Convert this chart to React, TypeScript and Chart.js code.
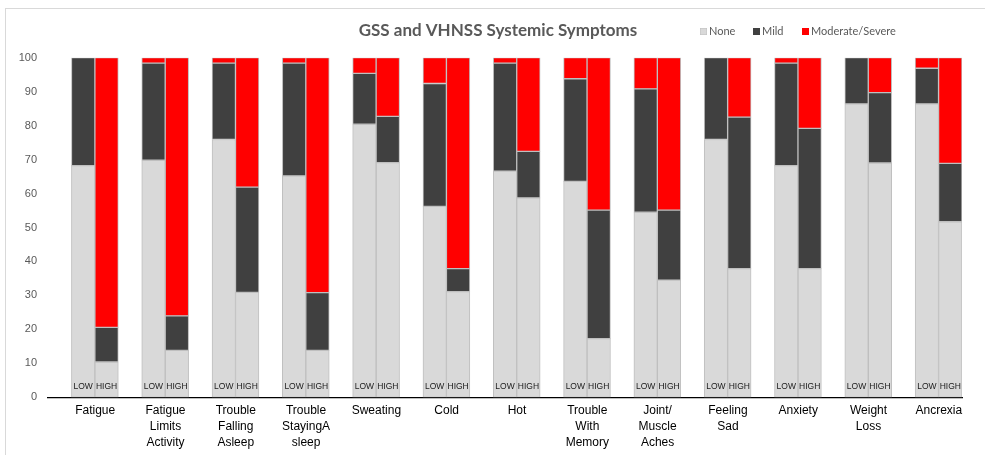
import { useEffect, useRef } from 'react';
import { Chart, registerables } from 'chart.js';

Chart.register(...registerables);

const categories: string[][] = [
  ['Fatigue'],
  ['Fatigue', 'Limits', 'Activity'],
  ['Trouble', 'Falling', 'Asleep'],
  ['Trouble', 'StayingA', 'sleep'],
  ['Sweating'],
  ['Cold'],
  ['Hot'],
  ['Trouble', 'With', 'Memory'],
  ['Joint/', 'Muscle', 'Aches'],
  ['Feeling', 'Sad'],
  ['Anxiety'],
  ['Weight', 'Loss'],
  ['Ancrexia'],
];

const yTicks = [0, 10, 20, 30, 40, 50, 60, 70, 80, 90, 100];

const lowNone = [68.2, 69.8, 75.9, 65.2, 80.4, 56.2, 66.6, 63.6, 54.5, 75.9, 68.2, 86.4, 86.4];
const lowMild = [31.8, 28.6, 22.5, 33.2, 15.0, 36.2, 31.8, 30.2, 36.3, 24.1, 30.2, 13.6, 10.5];
const lowSevere = [0, 1.6, 1.6, 1.6, 4.6, 7.6, 1.6, 6.2, 9.2, 0, 1.6, 0, 3.1];

const highNone = [10.4, 13.8, 30.9, 13.8, 69.1, 31.1, 58.7, 17.3, 34.5, 37.9, 37.9, 69.0, 51.7];
const highMild = [10.2, 10.2, 31.0, 17.0, 13.6, 6.8, 13.7, 37.8, 20.6, 44.6, 41.3, 20.7, 17.2];
const highSevere = [79.4, 76.0, 38.1, 69.2, 17.3, 62.1, 27.6, 44.9, 44.9, 17.5, 20.8, 10.3, 31.1];

const groupLabels = ['LOW', 'HIGH'];
const seriesNames = ['None', 'Mild', 'Moderate/Severe'];
const titleText = 'GSS and VHNSS Systemic Symptoms';

const COLORS = ['#d9d9d9', '#404040', '#ff0000'];
const BORDER = '#bfbfbf';
const LEGEND_X = [694, 747, 796];

export default function App() {
  const ref = useRef<HTMLCanvasElement | null>(null);

  useEffect(() => {
    if (!ref.current) return;

    const overlay = {
      id: 'overlay',
      afterDraw(chart: any) {
        const ctx = chart.ctx;
        ctx.save();
        // title
        ctx.fillStyle = '#595959';
        ctx.font = 'bold 17px Lato, "Open Sans", sans-serif';
        ctx.textAlign = 'center';
        ctx.textBaseline = 'middle';
        ctx.fillText(titleText, 492, 22);
        // legend
        ctx.font = '11px Lato, "Open Sans", sans-serif';
        ctx.textAlign = 'left';
        seriesNames.forEach((name, i) => {
          const x = LEGEND_X[i];
          ctx.fillStyle = COLORS[i];
          ctx.fillRect(x, 19, 7, 7);
          ctx.strokeStyle = i === 0 ? '#bfbfbf' : COLORS[i];
          ctx.lineWidth = 0.5;
          ctx.strokeRect(x + 0.25, 19.25, 6.5, 6.5);
          ctx.fillStyle = '#595959';
          ctx.fillText(name, x + 9, 22.5);
        });
        // LOW / HIGH labels
        ctx.font = '8.5px "Liberation Sans", Arial, sans-serif';
        ctx.fillStyle = '#1a1a1a';
        ctx.textAlign = 'center';
        const yPos = chart.chartArea.bottom - 11;
        [1, 4].forEach((dsIndex, g) => {
          const meta = chart.getDatasetMeta(dsIndex);
          meta.data.forEach((bar: any) => {
            ctx.fillText(groupLabels[g], bar.x, yPos);
          });
        });
        ctx.restore();
      },
    };

    const ds = (label: string, data: number[], stack: string, color: string, hidden = false) => ({
      label,
      data,
      stack,
      backgroundColor: color,
      borderColor: hidden ? 'rgba(0,0,0,0)' : BORDER,
      borderWidth: hidden ? 0 : 1,
      borderSkipped: false as const,
      categoryPercentage: 1,
      barPercentage: 1,
    });

    const zeros = categories.map(() => 0);

    const chart = new Chart(ref.current, {
      type: 'bar',
      data: {
        labels: categories,
        datasets: [
          ds('gap', zeros, 'gap', 'rgba(0,0,0,0)', true),
          ds(seriesNames[0], lowNone, 'low', COLORS[0]),
          ds(seriesNames[1], lowMild, 'low', COLORS[1]),
          ds(seriesNames[2], lowSevere, 'low', COLORS[2]),
          ds(seriesNames[0], highNone, 'high', COLORS[0]),
          ds(seriesNames[1], highMild, 'high', COLORS[1]),
          ds(seriesNames[2], highSevere, 'high', COLORS[2]),
        ],
      },
      options: {
        animation: false,
        responsive: true,
        maintainAspectRatio: false,
        layout: { padding: { top: 48.7, right: 23, left: 0, bottom: 0 } },
        plugins: {
          legend: { display: false },
          title: { display: false },
          tooltip: { enabled: false },
        },
        scales: {
          x: {
            stacked: true,
            grid: { display: false, drawTicks: false },
            border: { display: true, color: '#000000', width: 1.3 },
            ticks: {
              color: '#000000',
              padding: 5,
              labelOffset: 12,
              maxRotation: 0,
              autoSkip: false,
              font: { family: '"Liberation Sans", Arial, sans-serif', size: 12, lineHeight: 1.33 },
            },
            afterFit: (s: any) => { s.height = 57.7; },
          },
          y: {
            stacked: true,
            min: 0,
            max: 100,
            afterBuildTicks: (s: any) => { s.ticks = yTicks.map((v) => ({ value: v })); },
            grid: { display: false, drawTicks: false },
            border: { display: false },
            ticks: {
              color: '#595959',
              padding: 11,
              font: { family: '"Liberation Sans", Arial, sans-serif', size: 11 },
            },
            afterFit: (s: any) => { s.width = 42; },
          },
        },
      },
      plugins: [overlay],
    });

    return () => chart.destroy();
  }, []);

  return (
    <div
      style={{
        position: 'absolute',
        left: 5,
        top: 8,
        width: 980,
        height: 447,
        boxSizing: 'border-box',
        borderTop: '1px solid #d9d9d9',
        borderLeft: '1px solid #d9d9d9',
      }}
    >
      <div style={{ position: 'absolute', left: 0, top: 0, width: 979, height: 446 }}>
        <canvas ref={ref} />
      </div>
    </div>
  );
}
